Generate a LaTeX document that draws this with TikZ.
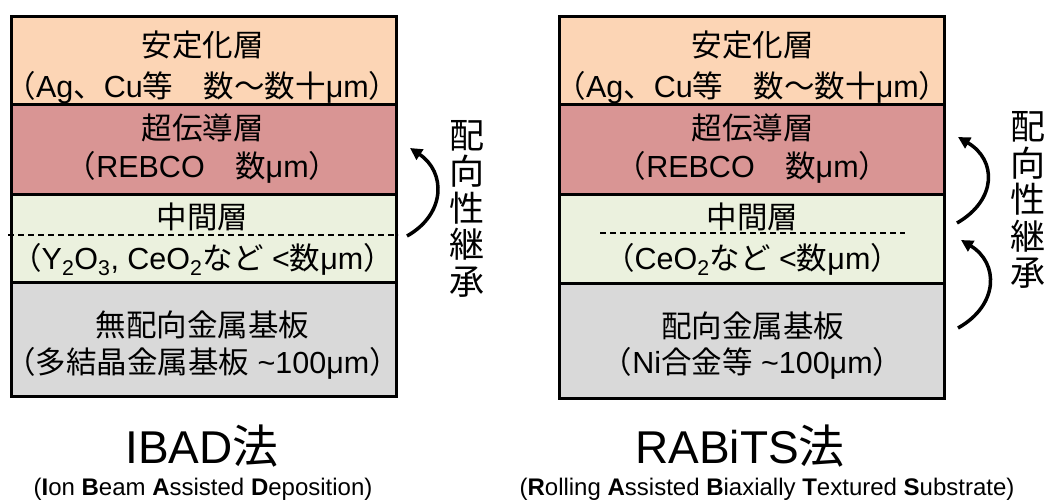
\documentclass[tikz,border=0pt]{standalone}
\usepackage{fontspec}
\setmainfont{Liberation Sans}
\newfontfamily\jp{Noto Sans CJK JP}
\usetikzlibrary{arrows.meta}
\newcommand\jtxt[1]{{\jp #1}}
\definecolor{stabc}{HTML}{FCD5B5}
\definecolor{scc}{HTML}{D99594}
\definecolor{midc}{HTML}{EBF1DE}
\definecolor{subc}{HTML}{D9D9D9}
\begin{document}
\begin{tikzpicture}[x=1pt,y=-1pt,
  layer/.style={draw=black, line width=3pt, anchor=north west, minimum width=385pt, inner sep=0pt},
  ltext/.style={anchor=base, font=\fontsize{30.5}{34}\selectfont, inner sep=0pt},
  vtext/.style={font=\fontsize{35}{36.5}\selectfont\jp, align=center, inner sep=0pt},
  title/.style={anchor=base, font=\fontsize{46}{50}\selectfont, inner sep=0pt},
  subtitle/.style={anchor=base, font=\fontsize{24}{26}\selectfont, inner sep=0pt},
  arcarrow/.style={line width=3.5pt, -{Triangle[length=12pt,width=12pt]}},
  sep/.style={line width=1.2pt, dash pattern=on 6pt off 4pt}
]
\useasboundingbox (0,0) rectangle (1047,501);

% ---------- left stack (IBAD) ----------
\node[layer, fill=subc,  minimum height=114pt] (A4) at (10,281) {};
\node[layer, fill=midc,  minimum height=88pt]  (A3) at (10,193) {};
\node[layer, fill=scc,   minimum height=90pt]  (A2) at (10,103) {};
\node[layer, fill=stabc, minimum height=88pt]  (A1) at (10,15) {};

\node[ltext] (a1a) at (202.5,56) {\jtxt{安定化層}};
\node[ltext] (a1b) at (202.5,97) {\jtxt{（}Ag\jtxt{、}Cu\jtxt{等　数～数十}μm\jtxt{）}};
\node[ltext] (a2a) at (202.5,139) {\jtxt{超伝導層}};
\node[ltext] (a2b) at (202.5,177) {\jtxt{（}REBCO\jtxt{　数}μm\jtxt{）}};
\node[ltext] (a3a) at (202.5,228) {\jtxt{中間層}};
\node[ltext] (a3b) at (202.5,269) {\jtxt{（}Y\textsubscript{2}O\textsubscript{3}, CeO\textsubscript{2}\jtxt{など} <\jtxt{数}μm\jtxt{）}};
\node[ltext] (a4a) at (202.5,336) {\jtxt{無配向金属基板}};
\node[ltext] (a4b) at (202.5,373) {\jtxt{（多結晶金属基板} \textasciitilde100μm\jtxt{）}};

\coordinate (ad1) at (8,235);
\coordinate (ad2) at (398,235);
\draw[sep] (ad1) -- (ad2);

\coordinate (aa1) at (407,236);
\coordinate (aa2) at (410,148);
\draw[arcarrow] (aa1) .. controls (446,214) and (446,172) .. (aa2);

\node[vtext] (av) at (467,208.5) {配\\向\\性\\継\\承};

\node[title] (at) at (202,463) {IBAD\jtxt{法}};
\node[subtitle] (as) at (203,495) {(\textbf{I}on \textbf{B}eam \textbf{A}ssisted \textbf{D}eposition)};

% ---------- right stack (RABiTS) ----------
\node[layer, fill=subc,  minimum height=115pt] (B4) at (558,282) {};
\node[layer, fill=midc,  minimum height=89pt]  (B3) at (558,193) {};
\node[layer, fill=scc,   minimum height=90pt]  (B2) at (558,103) {};
\node[layer, fill=stabc, minimum height=88pt]  (B1) at (558,15) {};

\node[ltext] (b1a) at (752.5,56) {\jtxt{安定化層}};
\node[ltext] (b1b) at (752.5,97) {\jtxt{（}Ag\jtxt{、}Cu\jtxt{等　数～数十}μm\jtxt{）}};
\node[ltext] (b2a) at (752.5,139) {\jtxt{超伝導層}};
\node[ltext] (b2b) at (752.5,177) {\jtxt{（}REBCO\jtxt{　数}μm\jtxt{）}};
\node[ltext] (b3a) at (752.5,228) {\jtxt{中間層}};
\node[ltext] (b3b) at (752.5,269) {\jtxt{（}CeO\textsubscript{2}\jtxt{など} <\jtxt{数}μm\jtxt{）}};
\node[ltext] (b4a) at (752.5,337) {\jtxt{配向金属基板}};
\node[ltext] (b4b) at (752.5,373) {\jtxt{（}Ni\jtxt{合金等} \textasciitilde100μm\jtxt{）}};

\coordinate (bd1) at (600,233);
\coordinate (bd2) at (905,233);
\draw[sep] (bd1) -- (bd2);

\coordinate (ba1) at (957,223);
\coordinate (ba2) at (958,137);
\draw[arcarrow] (ba1) .. controls (997,200) and (997,160) .. (ba2);
\coordinate (bb1) at (958,328);
\coordinate (bb2) at (961,240);
\draw[arcarrow] (bb1) .. controls (999,305) and (999,263) .. (bb2);

\node[vtext] (bv) at (1028,200) {配\\向\\性\\継\\承};

\node[title] (bt) at (740,463) {RABiTS\jtxt{法}};
\node[subtitle] (bs) at (767,495) {(\textbf{R}olling \textbf{A}ssisted \textbf{B}iaxially \textbf{T}extured \textbf{S}ubstrate)};
\end{tikzpicture}
\end{document}
